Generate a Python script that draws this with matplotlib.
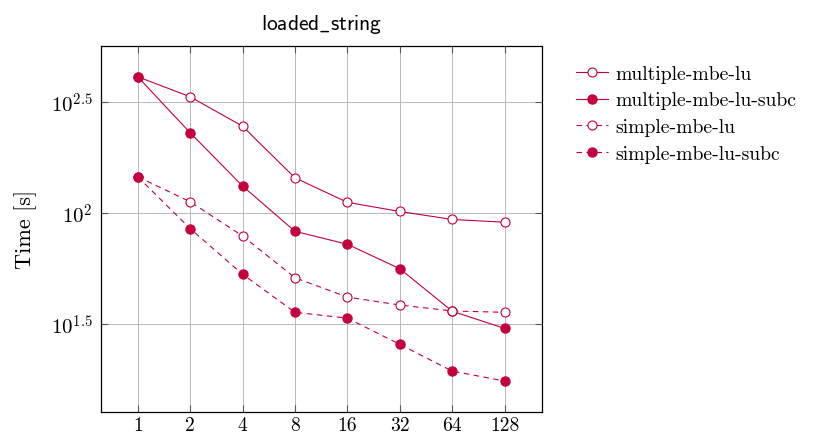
import numpy as np
import matplotlib
matplotlib.use("Agg")
from matplotlib import pyplot as plt
from matplotlib.ticker import FixedLocator, NullLocator

# data
threads = [1, 2, 4, 8, 16, 32, 64, 128]
multiple_mbe_lu = [411, 334, 246, 144, 111.7, 101.6, 93.5, 90.9]
multiple_mbe_lu_subc = [411, 230, 132.3, 82.7, 72.3, 56.1, 36.1, 30.2]
simple_mbe_lu = [145.7, 112.4, 78.8, 51.1, 41.8, 38.5, 36.2, 35.7]
simple_mbe_lu_subc = [145.7, 85.1, 53.0, 35.7, 33.6, 25.6, 19.4, 17.5]

ytick_vals = [10 ** 1.5, 10 ** 2, 10 ** 2.5]
ytick_labels = [r'$10^{1.5}$', r'$10^{2}$', r'$10^{2.5}$']

plt.rcParams['mathtext.fontset'] = 'cm'
plt.rcParams['font.family'] = ['cmr10', 'DejaVu Serif']
plt.rcParams['axes.unicode_minus'] = False

col = '#c4003f'

fig = plt.figure(figsize=(8.23, 4.35), dpi=100)
ax = fig.add_axes([0.1227, 0.0513, 0.5355, 0.8413])

ax.plot(threads, multiple_mbe_lu, '-', color=col, lw=0.8, marker='o', ms=6.5,
        mfc='white', mec=col, mew=0.8, label='multiple-mbe-lu')
ax.plot(threads, multiple_mbe_lu_subc, '-', color=col, lw=0.8, marker='o', ms=6.5,
        mfc=col, mec=col, label='multiple-mbe-lu-subc')
ax.plot(threads, simple_mbe_lu, '--', color=col, lw=0.8, marker='o', ms=6.5,
        mfc='white', mec=col, mew=0.8, dashes=(5, 4), label='simple-mbe-lu')
ax.plot(threads, simple_mbe_lu_subc, '--', color=col, lw=0.8, marker='o', ms=6.5,
        mfc=col, mec=col, dashes=(5, 4), label='simple-mbe-lu-subc')

ax.set_xscale('log', base=2)
ax.set_yscale('log')
ax.set_xlim(2 ** -0.7, 2 ** 7.706)
ax.set_ylim(10 ** 1.105, 10 ** 2.7536)

ax.xaxis.set_major_locator(FixedLocator(threads))
ax.set_xticklabels([str(t) for t in threads])
ax.xaxis.set_minor_locator(NullLocator())
ax.yaxis.set_major_locator(FixedLocator(ytick_vals))
ax.set_yticklabels(ytick_labels)
ax.yaxis.set_minor_locator(NullLocator())

ax.tick_params(direction='in', top=True, right=True, length=5, width=0.8,
               color='#555555', labelsize=14, pad=6)
ax.tick_params(axis='x', pad=3)
ax.tick_params(axis='y', labelsize=15)
ax.grid(True, color='#b8b8b8', lw=0.7)
ax.set_axisbelow(True)
for s in ax.spines.values():
    s.set_linewidth(0.9)

ax.set_ylabel('Time [s]', fontsize=16, labelpad=10)
ax.set_title(r'$\mathsf{loaded\_string}$', fontsize=15.5, pad=12)

leg = ax.legend(loc='upper left', bbox_to_anchor=(1.06, 0.97), frameon=False,
                fontsize=14.2, handlelength=1.6, handletextpad=0.4,
                labelspacing=0.45, borderaxespad=0)

fig.savefig('out.png', dpi=100)
